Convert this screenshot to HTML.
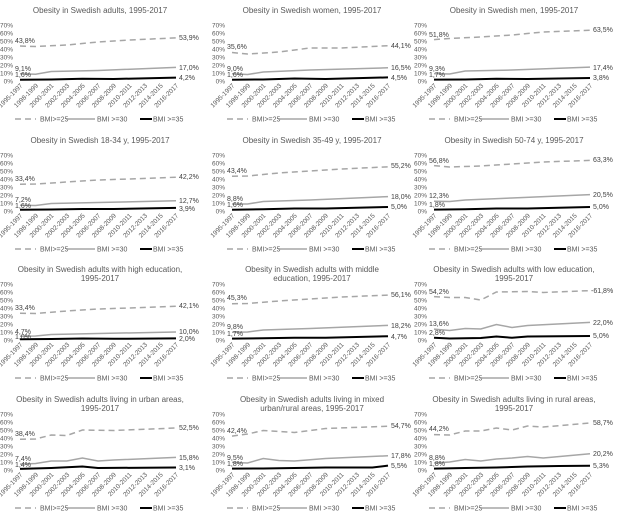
<!DOCTYPE html>
<html><head><meta charset="utf-8"><style>
html,body{margin:0;padding:0;background:#fff;width:620px;height:519px;overflow:hidden}
svg{display:block;font-family:"Liberation Sans",sans-serif;overflow:hidden}
.t{font-size:8px;fill:#595959;text-anchor:middle}
.y{font-size:6.5px;fill:#595959;text-anchor:end}
.x{font-size:6.5px;fill:#595959;text-anchor:end}
.v{font-size:7px;fill:#404040}
.l{font-size:7px;fill:#595959}
.a{fill:none;stroke:#a6a6a6;stroke-width:1.5;stroke-dasharray:6,4}
.b{fill:none;stroke:#a6a6a6;stroke-width:1.5}
.c{fill:none;stroke:#000;stroke-width:2}
</style></head><body>
<svg width="620" height="519" viewBox="0 0 620 519">

<!-- Panel 1 -->
<g transform="translate(0,25)">
<text class="t" x="100" y="-12">Obesity in Swedish adults, 1995-2017</text>
<text class="y"><tspan x="13" y="2.5">70%</tspan><tspan x="13" y="10.5">60%</tspan><tspan x="13" y="18.5">50%</tspan><tspan x="13" y="26.5">40%</tspan><tspan x="13" y="34.5">30%</tspan><tspan x="13" y="42.5">20%</tspan><tspan x="13" y="50.5">10%</tspan><tspan x="13" y="58.5">0%</tspan></text>
<text class="x" transform="rotate(-45)"><tspan x="-26.9" y="59.4">1995-1997</tspan><tspan x="-15.9" y="70.4">1998-1999</tspan><tspan x="-4.9" y="81.4">2000-2001</tspan><tspan x="6.2" y="92.5">2002-2003</tspan><tspan x="17.2" y="103.5">2004-2005</tspan><tspan x="28.2" y="114.5">2006-2007</tspan><tspan x="39.2" y="125.5">2008-2009</tspan><tspan x="50.3" y="136.6">2010-2011</tspan><tspan x="61.3" y="147.6">2012-2013</tspan><tspan x="72.3" y="158.6">2014-2015</tspan><tspan x="83.3" y="169.6">2016-2017</tspan></text>
<polyline class="a" points="20,21 35.6,21.5 66.8,20 98,17 129.2,15 176,12.9"/>
<polyline class="b" points="20,48.7 35.6,49.3 51.2,46.5 98,45.5 176,42.4"/>
<polyline class="c" points="20,54.7 51.2,54.5 82.4,53.8 113.6,54 176,52.6"/>
<text class="v" x="15" y="18">43,8%</text><text class="v" x="179" y="15">53,9%</text>
<text class="v" x="15" y="46">9,1%</text><text class="v" x="179" y="45">17,0%</text>
<text class="v" x="15" y="52">1,6%</text><text class="v" x="179" y="55">4,2%</text>
<g transform="translate(0,94)"><line class="a" x1="15" y1="0" x2="36" y2="0"/><text class="l" x="40" y="2.5">BMI&gt;=25</text><line class="b" x1="66" y1="0" x2="95" y2="0"/><text class="l" x="97" y="2.5">BMI &gt;=30</text><line class="c" x1="140" y1="0" x2="152" y2="0"/><text class="l" x="153" y="2.5">BMI &gt;=35</text></g>
</g>

<!-- Panel 2 -->
<g transform="translate(212,25)">
<text class="t" x="100" y="-12">Obesity in Swedish women, 1995-2017</text>
<text class="y"><tspan x="13" y="2.5">70%</tspan><tspan x="13" y="10.5">60%</tspan><tspan x="13" y="18.5">50%</tspan><tspan x="13" y="26.5">40%</tspan><tspan x="13" y="34.5">30%</tspan><tspan x="13" y="42.5">20%</tspan><tspan x="13" y="50.5">10%</tspan><tspan x="13" y="58.5">0%</tspan></text>
<text class="x" transform="rotate(-45)"><tspan x="-26.9" y="59.4">1995-1997</tspan><tspan x="-15.9" y="70.4">1998-1999</tspan><tspan x="-4.9" y="81.4">2000-2001</tspan><tspan x="6.2" y="92.5">2002-2003</tspan><tspan x="17.2" y="103.5">2004-2005</tspan><tspan x="28.2" y="114.5">2006-2007</tspan><tspan x="39.2" y="125.5">2008-2009</tspan><tspan x="50.3" y="136.6">2010-2011</tspan><tspan x="61.3" y="147.6">2012-2013</tspan><tspan x="72.3" y="158.6">2014-2015</tspan><tspan x="83.3" y="169.6">2016-2017</tspan></text>
<polyline class="a" points="20,27.5 35.6,29 66.8,27 98,23 129.2,23 176,20.7"/>
<polyline class="b" points="20,48.8 35.6,49.5 51.2,47 98,45 176,42.8"/>
<polyline class="c" points="20,54.7 51.2,54.5 82.4,53.5 113.6,54 176,52.4"/>
<text class="v" x="15" y="24">35,6%</text><text class="v" x="179" y="23">44,1%</text>
<text class="v" x="15" y="46">9,0%</text><text class="v" x="179" y="45">16,5%</text>
<text class="v" x="15" y="52">1,6%</text><text class="v" x="179" y="55">4,5%</text>
<g transform="translate(0,94)"><line class="a" x1="15" y1="0" x2="36" y2="0"/><text class="l" x="40" y="2.5">BMI&gt;=25</text><line class="b" x1="66" y1="0" x2="95" y2="0"/><text class="l" x="97" y="2.5">BMI &gt;=30</text><line class="c" x1="140" y1="0" x2="152" y2="0"/><text class="l" x="153" y="2.5">BMI &gt;=35</text></g>
</g>

<!-- Panel 3 -->
<g transform="translate(414,25)">
<text class="t" x="100" y="-12">Obesity in Swedish men, 1995-2017</text>
<text class="y"><tspan x="13" y="2.5">70%</tspan><tspan x="13" y="10.5">60%</tspan><tspan x="13" y="18.5">50%</tspan><tspan x="13" y="26.5">40%</tspan><tspan x="13" y="34.5">30%</tspan><tspan x="13" y="42.5">20%</tspan><tspan x="13" y="50.5">10%</tspan><tspan x="13" y="58.5">0%</tspan></text>
<text class="x" transform="rotate(-45)"><tspan x="-26.9" y="59.4">1995-1997</tspan><tspan x="-15.9" y="70.4">1998-1999</tspan><tspan x="-4.9" y="81.4">2000-2001</tspan><tspan x="6.2" y="92.5">2002-2003</tspan><tspan x="17.2" y="103.5">2004-2005</tspan><tspan x="28.2" y="114.5">2006-2007</tspan><tspan x="39.2" y="125.5">2008-2009</tspan><tspan x="50.3" y="136.6">2010-2011</tspan><tspan x="61.3" y="147.6">2012-2013</tspan><tspan x="72.3" y="158.6">2014-2015</tspan><tspan x="83.3" y="169.6">2016-2017</tspan></text>
<polyline class="a" points="20,14.6 35.6,13.5 66.8,12 98,10 129.2,7 176,5.2"/>
<polyline class="b" points="20,48.6 35.6,49 51.2,46 98,45 176,42.1"/>
<polyline class="c" points="20,54.6 51.2,54.5 82.4,53.8 113.6,54 176,53"/>
<text class="v" x="15" y="12">51,8%</text><text class="v" x="179" y="7">63,5%</text>
<text class="v" x="15" y="46">9,3%</text><text class="v" x="179" y="45">17,4%</text>
<text class="v" x="15" y="52">1,7%</text><text class="v" x="179" y="55">3,8%</text>
<g transform="translate(0,94)"><line class="a" x1="15" y1="0" x2="36" y2="0"/><text class="l" x="40" y="2.5">BMI&gt;=25</text><line class="b" x1="66" y1="0" x2="95" y2="0"/><text class="l" x="97" y="2.5">BMI &gt;=30</text><line class="c" x1="140" y1="0" x2="152" y2="0"/><text class="l" x="153" y="2.5">BMI &gt;=35</text></g>
</g>

<!-- Panel 4 -->
<g transform="translate(0,155)">
<text class="t" x="100" y="-12">Obesity in Swedish 18-34 y, 1995-2017</text>
<text class="y"><tspan x="13" y="2.5">70%</tspan><tspan x="13" y="10.5">60%</tspan><tspan x="13" y="18.5">50%</tspan><tspan x="13" y="26.5">40%</tspan><tspan x="13" y="34.5">30%</tspan><tspan x="13" y="42.5">20%</tspan><tspan x="13" y="50.5">10%</tspan><tspan x="13" y="58.5">0%</tspan></text>
<text class="x" transform="rotate(-45)"><tspan x="-26.9" y="59.4">1995-1997</tspan><tspan x="-15.9" y="70.4">1998-1999</tspan><tspan x="-4.9" y="81.4">2000-2001</tspan><tspan x="6.2" y="92.5">2002-2003</tspan><tspan x="17.2" y="103.5">2004-2005</tspan><tspan x="28.2" y="114.5">2006-2007</tspan><tspan x="39.2" y="125.5">2008-2009</tspan><tspan x="50.3" y="136.6">2010-2011</tspan><tspan x="61.3" y="147.6">2012-2013</tspan><tspan x="72.3" y="158.6">2014-2015</tspan><tspan x="83.3" y="169.6">2016-2017</tspan></text>
<polyline class="a" points="20,29.3 35.6,29 66.8,27 98,25 129.2,24 176,22.2"/>
<polyline class="b" points="20,50.2 35.6,50.5 51.2,48.5 98,47.5 176,45.8"/>
<polyline class="c" points="20,54.7 51.2,54.5 82.4,54 113.6,54 176,52.9"/>
<text class="v" x="15" y="26">33,4%</text><text class="v" x="179" y="24">42,2%</text>
<text class="v" x="15" y="47">7,2%</text><text class="v" x="179" y="48">12,7%</text>
<text class="v" x="15" y="53">1,6%</text><text class="v" x="179" y="56">3,9%</text>
<g transform="translate(0,94)"><line class="a" x1="15" y1="0" x2="36" y2="0"/><text class="l" x="40" y="2.5">BMI&gt;=25</text><line class="b" x1="66" y1="0" x2="95" y2="0"/><text class="l" x="97" y="2.5">BMI &gt;=30</text><line class="c" x1="140" y1="0" x2="152" y2="0"/><text class="l" x="153" y="2.5">BMI &gt;=35</text></g>
</g>

<!-- Panel 5 -->
<g transform="translate(212,155)">
<text class="t" x="100" y="-12">Obesity in Swedish 35-49 y, 1995-2017</text>
<text class="y"><tspan x="13" y="2.5">70%</tspan><tspan x="13" y="10.5">60%</tspan><tspan x="13" y="18.5">50%</tspan><tspan x="13" y="26.5">40%</tspan><tspan x="13" y="34.5">30%</tspan><tspan x="13" y="42.5">20%</tspan><tspan x="13" y="50.5">10%</tspan><tspan x="13" y="58.5">0%</tspan></text>
<text class="x" transform="rotate(-45)"><tspan x="-26.9" y="59.4">1995-1997</tspan><tspan x="-15.9" y="70.4">1998-1999</tspan><tspan x="-4.9" y="81.4">2000-2001</tspan><tspan x="6.2" y="92.5">2002-2003</tspan><tspan x="17.2" y="103.5">2004-2005</tspan><tspan x="28.2" y="114.5">2006-2007</tspan><tspan x="39.2" y="125.5">2008-2009</tspan><tspan x="50.3" y="136.6">2010-2011</tspan><tspan x="61.3" y="147.6">2012-2013</tspan><tspan x="72.3" y="158.6">2014-2015</tspan><tspan x="83.3" y="169.6">2016-2017</tspan></text>
<polyline class="a" points="20,21.3 35.6,21 66.8,18 98,16 129.2,14 176,11.8"/>
<polyline class="b" points="20,49 35.6,49 51.2,46.5 98,45 176,41.6"/>
<polyline class="c" points="20,54.7 51.2,54.3 82.4,53.5 113.6,53.5 176,52"/>
<text class="v" x="15" y="18">43,4%</text><text class="v" x="179" y="13">55,2%</text>
<text class="v" x="15" y="46">8,8%</text><text class="v" x="179" y="44">18,0%</text>
<text class="v" x="15" y="52">1,6%</text><text class="v" x="179" y="54">5,0%</text>
<g transform="translate(0,94)"><line class="a" x1="15" y1="0" x2="36" y2="0"/><text class="l" x="40" y="2.5">BMI&gt;=25</text><line class="b" x1="66" y1="0" x2="95" y2="0"/><text class="l" x="97" y="2.5">BMI &gt;=30</text><line class="c" x1="140" y1="0" x2="152" y2="0"/><text class="l" x="153" y="2.5">BMI &gt;=35</text></g>
</g>

<!-- Panel 6 -->
<g transform="translate(414,155)">
<text class="t" x="100" y="-12">Obesity in Swedish 50-74 y, 1995-2017</text>
<text class="y"><tspan x="13" y="2.5">70%</tspan><tspan x="13" y="10.5">60%</tspan><tspan x="13" y="18.5">50%</tspan><tspan x="13" y="26.5">40%</tspan><tspan x="13" y="34.5">30%</tspan><tspan x="13" y="42.5">20%</tspan><tspan x="13" y="50.5">10%</tspan><tspan x="13" y="58.5">0%</tspan></text>
<text class="x" transform="rotate(-45)"><tspan x="-26.9" y="59.4">1995-1997</tspan><tspan x="-15.9" y="70.4">1998-1999</tspan><tspan x="-4.9" y="81.4">2000-2001</tspan><tspan x="6.2" y="92.5">2002-2003</tspan><tspan x="17.2" y="103.5">2004-2005</tspan><tspan x="28.2" y="114.5">2006-2007</tspan><tspan x="39.2" y="125.5">2008-2009</tspan><tspan x="50.3" y="136.6">2010-2011</tspan><tspan x="61.3" y="147.6">2012-2013</tspan><tspan x="72.3" y="158.6">2014-2015</tspan><tspan x="83.3" y="169.6">2016-2017</tspan></text>
<polyline class="a" points="20,10.6 35.6,12 66.8,11 98,9 129.2,7 176,5.4"/>
<polyline class="b" points="20,46.2 35.6,46.5 51.2,45 98,43 176,39.6"/>
<polyline class="c" points="20,54.6 51.2,54.3 82.4,53.5 113.6,53.5 176,52"/>
<text class="v" x="15" y="8">56,8%</text><text class="v" x="179" y="7">63,3%</text>
<text class="v" x="15" y="43">12,3%</text><text class="v" x="179" y="42">20,5%</text>
<text class="v" x="15" y="52">1,8%</text><text class="v" x="179" y="54">5,0%</text>
<g transform="translate(0,94)"><line class="a" x1="15" y1="0" x2="36" y2="0"/><text class="l" x="40" y="2.5">BMI&gt;=25</text><line class="b" x1="66" y1="0" x2="95" y2="0"/><text class="l" x="97" y="2.5">BMI &gt;=30</text><line class="c" x1="140" y1="0" x2="152" y2="0"/><text class="l" x="153" y="2.5">BMI &gt;=35</text></g>
</g>

<!-- Panel 7 -->
<g transform="translate(0,284)">
<text class="t" x="100" y="-12">Obesity in Swedish adults with high education,</text>
<text class="t" x="100" y="-3">1995-2017</text>
<text class="y"><tspan x="13" y="2.5">70%</tspan><tspan x="13" y="10.5">60%</tspan><tspan x="13" y="18.5">50%</tspan><tspan x="13" y="26.5">40%</tspan><tspan x="13" y="34.5">30%</tspan><tspan x="13" y="42.5">20%</tspan><tspan x="13" y="50.5">10%</tspan><tspan x="13" y="58.5">0%</tspan></text>
<text class="x" transform="rotate(-45)"><tspan x="-26.9" y="59.4">1995-1997</tspan><tspan x="-15.9" y="70.4">1998-1999</tspan><tspan x="-4.9" y="81.4">2000-2001</tspan><tspan x="6.2" y="92.5">2002-2003</tspan><tspan x="17.2" y="103.5">2004-2005</tspan><tspan x="28.2" y="114.5">2006-2007</tspan><tspan x="39.2" y="125.5">2008-2009</tspan><tspan x="50.3" y="136.6">2010-2011</tspan><tspan x="61.3" y="147.6">2012-2013</tspan><tspan x="72.3" y="158.6">2014-2015</tspan><tspan x="83.3" y="169.6">2016-2017</tspan></text>
<polyline class="a" points="20,29.3 35.6,29.5 66.8,27 98,25 129.2,24 176,22.3"/>
<polyline class="b" points="20,52.2 35.6,52 51.2,50.5 98,49.5 176,48"/>
<polyline class="c" points="20,55.2 51.2,55 82.4,54.5 113.6,54.8 176,54.4"/>
<text class="v" x="15" y="26">33,4%</text><text class="v" x="179" y="24">42,1%</text>
<text class="v" x="15" y="50">4,7%</text><text class="v" x="179" y="50">10,0%</text>
<text class="v" x="15" y="55">1,0%</text><text class="v" x="179" y="57">2,0%</text>
<g transform="translate(0,94)"><line class="a" x1="15" y1="0" x2="36" y2="0"/><text class="l" x="40" y="2.5">BMI&gt;=25</text><line class="b" x1="66" y1="0" x2="95" y2="0"/><text class="l" x="97" y="2.5">BMI &gt;=30</text><line class="c" x1="140" y1="0" x2="152" y2="0"/><text class="l" x="153" y="2.5">BMI &gt;=35</text></g>
</g>

<!-- Panel 8 -->
<g transform="translate(212,284)">
<text class="t" x="100" y="-12">Obesity in Swedish adults with middle</text>
<text class="t" x="100" y="-3">education, 1995-2017</text>
<text class="y"><tspan x="13" y="2.5">70%</tspan><tspan x="13" y="10.5">60%</tspan><tspan x="13" y="18.5">50%</tspan><tspan x="13" y="26.5">40%</tspan><tspan x="13" y="34.5">30%</tspan><tspan x="13" y="42.5">20%</tspan><tspan x="13" y="50.5">10%</tspan><tspan x="13" y="58.5">0%</tspan></text>
<text class="x" transform="rotate(-45)"><tspan x="-26.9" y="59.4">1995-1997</tspan><tspan x="-15.9" y="70.4">1998-1999</tspan><tspan x="-4.9" y="81.4">2000-2001</tspan><tspan x="6.2" y="92.5">2002-2003</tspan><tspan x="17.2" y="103.5">2004-2005</tspan><tspan x="28.2" y="114.5">2006-2007</tspan><tspan x="39.2" y="125.5">2008-2009</tspan><tspan x="50.3" y="136.6">2010-2011</tspan><tspan x="61.3" y="147.6">2012-2013</tspan><tspan x="72.3" y="158.6">2014-2015</tspan><tspan x="83.3" y="169.6">2016-2017</tspan></text>
<polyline class="a" points="20,19.8 35.6,19.5 66.8,17 98,15 129.2,13 176,11.1"/>
<polyline class="b" points="20,48.2 35.6,48 51.2,46 98,44.5 176,41.4"/>
<polyline class="c" points="20,54.6 51.2,54.3 82.4,53.8 113.6,53.8 176,52.2"/>
<text class="v" x="15" y="16">45,3%</text><text class="v" x="179" y="13">56,1%</text>
<text class="v" x="15" y="45">9,8%</text><text class="v" x="179" y="44">18,2%</text>
<text class="v" x="15" y="52">1,7%</text><text class="v" x="179" y="55">4,7%</text>
<g transform="translate(0,94)"><line class="a" x1="15" y1="0" x2="36" y2="0"/><text class="l" x="40" y="2.5">BMI&gt;=25</text><line class="b" x1="66" y1="0" x2="95" y2="0"/><text class="l" x="97" y="2.5">BMI &gt;=30</text><line class="c" x1="140" y1="0" x2="152" y2="0"/><text class="l" x="153" y="2.5">BMI &gt;=35</text></g>
</g>

<!-- Panel 9 -->
<g transform="translate(414,284)">
<text class="t" x="100" y="-12">Obesity in Swedish adults with low education,</text>
<text class="t" x="100" y="-3">1995-2017</text>
<text class="y"><tspan x="13" y="2.5">70%</tspan><tspan x="13" y="10.5">60%</tspan><tspan x="13" y="18.5">50%</tspan><tspan x="13" y="26.5">40%</tspan><tspan x="13" y="34.5">30%</tspan><tspan x="13" y="42.5">20%</tspan><tspan x="13" y="50.5">10%</tspan><tspan x="13" y="58.5">0%</tspan></text>
<text class="x" transform="rotate(-45)"><tspan x="-26.9" y="59.4">1995-1997</tspan><tspan x="-15.9" y="70.4">1998-1999</tspan><tspan x="-4.9" y="81.4">2000-2001</tspan><tspan x="6.2" y="92.5">2002-2003</tspan><tspan x="17.2" y="103.5">2004-2005</tspan><tspan x="28.2" y="114.5">2006-2007</tspan><tspan x="39.2" y="125.5">2008-2009</tspan><tspan x="50.3" y="136.6">2010-2011</tspan><tspan x="61.3" y="147.6">2012-2013</tspan><tspan x="72.3" y="158.6">2014-2015</tspan><tspan x="83.3" y="169.6">2016-2017</tspan></text>
<polyline class="a" points="20,12.6 35.6,13.5 51.2,13.5 66.8,16 82.4,8 113.6,7.5 129.2,8.5 176,6.6"/>
<polyline class="b" points="20,45.1 35.6,46.5 51.2,44.5 66.8,45 82.4,40.5 98,43.5 113.6,41.5 176,38.4"/>
<polyline class="c" points="20,53.8 35.6,54.5 66.8,54 82.4,52.5 98,53.8 113.6,52.5 176,52"/>
<text class="v" x="15" y="10">54,2%</text><text class="v" x="177" y="9">-61,8%</text>
<text class="v" x="15" y="42">13,6%</text><text class="v" x="179" y="41">22,0%</text>
<text class="v" x="15" y="51">2,8%</text><text class="v" x="179" y="54">5,0%</text>
<g transform="translate(0,94)"><line class="a" x1="15" y1="0" x2="36" y2="0"/><text class="l" x="40" y="2.5">BMI&gt;=25</text><line class="b" x1="66" y1="0" x2="95" y2="0"/><text class="l" x="97" y="2.5">BMI &gt;=30</text><line class="c" x1="140" y1="0" x2="152" y2="0"/><text class="l" x="153" y="2.5">BMI &gt;=35</text></g>
</g>

<!-- Panel 10 -->
<g transform="translate(0,414)">
<text class="t" x="100" y="-12">Obesity in Swedish adults living in urban areas,</text>
<text class="t" x="100" y="-3">1995-2017</text>
<text class="y"><tspan x="13" y="2.5">70%</tspan><tspan x="13" y="10.5">60%</tspan><tspan x="13" y="18.5">50%</tspan><tspan x="13" y="26.5">40%</tspan><tspan x="13" y="34.5">30%</tspan><tspan x="13" y="42.5">20%</tspan><tspan x="13" y="50.5">10%</tspan><tspan x="13" y="58.5">0%</tspan></text>
<text class="x" transform="rotate(-45)"><tspan x="-26.9" y="59.4">1995-1997</tspan><tspan x="-15.9" y="70.4">1998-1999</tspan><tspan x="-4.9" y="81.4">2000-2001</tspan><tspan x="6.2" y="92.5">2002-2003</tspan><tspan x="17.2" y="103.5">2004-2005</tspan><tspan x="28.2" y="114.5">2006-2007</tspan><tspan x="39.2" y="125.5">2008-2009</tspan><tspan x="50.3" y="136.6">2010-2011</tspan><tspan x="61.3" y="147.6">2012-2013</tspan><tspan x="72.3" y="158.6">2014-2015</tspan><tspan x="83.3" y="169.6">2016-2017</tspan></text>
<polyline class="a" points="20,25.3 35.6,25 51.2,21 66.8,21.5 82.4,16 113.6,16.5 176,14"/>
<polyline class="b" points="20,50.1 35.6,49.5 51.2,47 66.8,47 82.4,44 98,47 113.6,46 176,43.4"/>
<polyline class="c" points="20,54.9 51.2,54 82.4,52.5 98,54 176,53.5"/>
<text class="v" x="15" y="22">38,4%</text><text class="v" x="179" y="16">52,5%</text>
<text class="v" x="15" y="47">7,4%</text><text class="v" x="179" y="46">15,8%</text>
<text class="v" x="15" y="53">1,4%</text><text class="v" x="179" y="56">3,1%</text>
<g transform="translate(0,94)"><line class="a" x1="15" y1="0" x2="36" y2="0"/><text class="l" x="40" y="2.5">BMI&gt;=25</text><line class="b" x1="66" y1="0" x2="95" y2="0"/><text class="l" x="97" y="2.5">BMI &gt;=30</text><line class="c" x1="140" y1="0" x2="152" y2="0"/><text class="l" x="153" y="2.5">BMI &gt;=35</text></g>
</g>

<!-- Panel 11 -->
<g transform="translate(212,414)">
<text class="t" x="100" y="-12">Obesity in Swedish adults living in mixed</text>
<text class="t" x="100" y="-3">urban/rural areas, 1995-2017</text>
<text class="y"><tspan x="13" y="2.5">70%</tspan><tspan x="13" y="10.5">60%</tspan><tspan x="13" y="18.5">50%</tspan><tspan x="13" y="26.5">40%</tspan><tspan x="13" y="34.5">30%</tspan><tspan x="13" y="42.5">20%</tspan><tspan x="13" y="50.5">10%</tspan><tspan x="13" y="58.5">0%</tspan></text>
<text class="x" transform="rotate(-45)"><tspan x="-26.9" y="59.4">1995-1997</tspan><tspan x="-15.9" y="70.4">1998-1999</tspan><tspan x="-4.9" y="81.4">2000-2001</tspan><tspan x="6.2" y="92.5">2002-2003</tspan><tspan x="17.2" y="103.5">2004-2005</tspan><tspan x="28.2" y="114.5">2006-2007</tspan><tspan x="39.2" y="125.5">2008-2009</tspan><tspan x="50.3" y="136.6">2010-2011</tspan><tspan x="61.3" y="147.6">2012-2013</tspan><tspan x="72.3" y="158.6">2014-2015</tspan><tspan x="83.3" y="169.6">2016-2017</tspan></text>
<polyline class="a" points="20,22.1 35.6,20 51.2,16.5 82.4,18.5 113.6,14.5 176,12.2"/>
<polyline class="b" points="20,48.4 35.6,49 51.2,44.5 66.8,46.5 82.4,47 113.6,44.5 176,41.8"/>
<polyline class="c" points="20,54.6 51.2,54.5 82.4,54 113.6,53.5 160.4,53.5 176,51.6"/>
<text class="v" x="15" y="19">42,4%</text><text class="v" x="179" y="14">54,7%</text>
<text class="v" x="15" y="46">9,5%</text><text class="v" x="179" y="44">17,8%</text>
<text class="v" x="15" y="52">1,8%</text><text class="v" x="179" y="54">5,5%</text>
<g transform="translate(0,94)"><line class="a" x1="15" y1="0" x2="36" y2="0"/><text class="l" x="40" y="2.5">BMI&gt;=25</text><line class="b" x1="66" y1="0" x2="95" y2="0"/><text class="l" x="97" y="2.5">BMI &gt;=30</text><line class="c" x1="140" y1="0" x2="152" y2="0"/><text class="l" x="153" y="2.5">BMI &gt;=35</text></g>
</g>

<!-- Panel 12 -->
<g transform="translate(414,414)">
<text class="t" x="100" y="-12">Obesity in Swedish adults living in rural areas,</text>
<text class="t" x="100" y="-3">1995-2017</text>
<text class="y"><tspan x="13" y="2.5">70%</tspan><tspan x="13" y="10.5">60%</tspan><tspan x="13" y="18.5">50%</tspan><tspan x="13" y="26.5">40%</tspan><tspan x="13" y="34.5">30%</tspan><tspan x="13" y="42.5">20%</tspan><tspan x="13" y="50.5">10%</tspan><tspan x="13" y="58.5">0%</tspan></text>
<text class="x" transform="rotate(-45)"><tspan x="-26.9" y="59.4">1995-1997</tspan><tspan x="-15.9" y="70.4">1998-1999</tspan><tspan x="-4.9" y="81.4">2000-2001</tspan><tspan x="6.2" y="92.5">2002-2003</tspan><tspan x="17.2" y="103.5">2004-2005</tspan><tspan x="28.2" y="114.5">2006-2007</tspan><tspan x="39.2" y="125.5">2008-2009</tspan><tspan x="50.3" y="136.6">2010-2011</tspan><tspan x="61.3" y="147.6">2012-2013</tspan><tspan x="72.3" y="158.6">2014-2015</tspan><tspan x="83.3" y="169.6">2016-2017</tspan></text>
<polyline class="a" points="20,20.6 35.6,21 51.2,17 66.8,17 82.4,14 98,16 113.6,12 129.2,13 176,9"/>
<polyline class="b" points="20,49 35.6,48 51.2,45.5 66.8,47 82.4,45 98,44 113.6,42.5 129.2,44 176,39.8"/>
<polyline class="c" points="20,54.6 51.2,54 82.4,53.5 113.6,52.5 144.8,52 176,51.8"/>
<text class="v" x="15" y="17">44,2%</text><text class="v" x="179" y="11">58,7%</text>
<text class="v" x="15" y="46">8,8%</text><text class="v" x="179" y="42">20,2%</text>
<text class="v" x="15" y="52">1,8%</text><text class="v" x="179" y="54">5,3%</text>
<g transform="translate(0,94)"><line class="a" x1="15" y1="0" x2="36" y2="0"/><text class="l" x="40" y="2.5">BMI&gt;=25</text><line class="b" x1="66" y1="0" x2="95" y2="0"/><text class="l" x="97" y="2.5">BMI &gt;=30</text><line class="c" x1="140" y1="0" x2="152" y2="0"/><text class="l" x="153" y="2.5">BMI &gt;=35</text></g>
</g>
</svg>
</body></html>
